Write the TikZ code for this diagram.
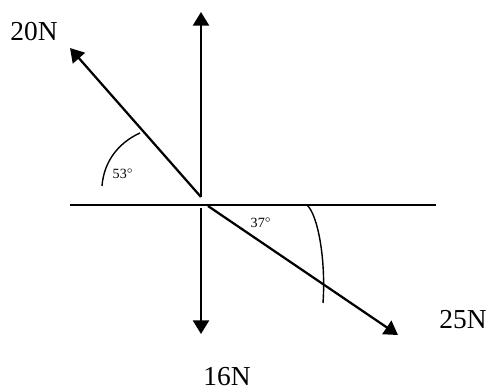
\documentclass[tikz,border=0pt]{standalone}
\usepackage{fontspec}
\setmainfont{Liberation Serif}
\usetikzlibrary{arrows.meta}

\begin{document}
\begin{tikzpicture}[x=0.025cm,y=-0.025cm,
  force/.style={-{Triangle[length=3.4mm,width=4mm]},line width=1.6pt},
  axis/.style={line width=1pt},
  arc/.style={line width=1pt},
  lbl/.style={font=\fontsize{19.5}{22}\selectfont,inner sep=0pt},
  ang/.style={font=\fontsize{10}{12}\selectfont,inner sep=0pt}]
\useasboundingbox (0,0) rectangle (489,390);
% origin and tips
\coordinate (o) at (201,197);
\coordinate (od) at (201,208);
\coordinate (or) at (208,206);
\coordinate (up) at (201,12);
\coordinate (nw) at (70,48);
\coordinate (dn) at (201,334);
\coordinate (se) at (398,335);
\coordinate (left) at (70,205);
\coordinate (right) at (436,205);
\draw[axis] (left) -- (right);
\draw[force] (o) -- (up);
\draw[force] (o) -- (nw);
\draw[force] (od) -- (dn);
\draw[force] (or) -- (se);
% angle marks
\coordinate (a1) at (102,186);
\coordinate (a2) at (140,133);
\draw[arc] (a1) .. controls (104,160) and (120,142) .. (a2);
\coordinate (b1) at (307,205);
\coordinate (b2) at (323,303);
\draw[arc] (b1) .. controls (318,215) and (326,260) .. (b2);
% labels
\node[lbl] (f20) at (34,32) {20N};
\node[lbl] (f25) at (463,320) {25N};
\node[lbl] (f16) at (227,377) {16N};
\node[ang] (t53) at (123,174) {53$^{\circ}$};
\node[ang] (t37) at (261,223) {37$^{\circ}$};
\end{tikzpicture}
\end{document}
